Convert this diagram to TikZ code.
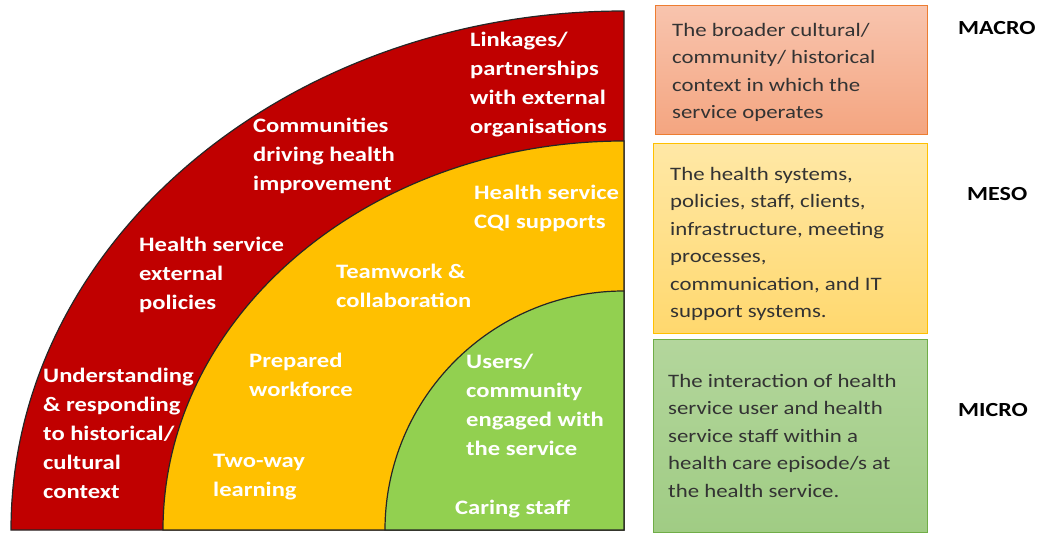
\documentclass[tikz,border=0pt]{standalone}
\usepackage{fontspec}
\setmainfont{Carlito}[FakeStretch=1.2]
\definecolor{macrored}{HTML}{C00000}
\definecolor{mesoyellow}{HTML}{FFC000}
\definecolor{microgreen}{HTML}{92D050}
\definecolor{macrotop}{HTML}{F8C4AE}
\definecolor{macrobot}{HTML}{F4A580}
\definecolor{mesotop}{HTML}{FFE8A6}
\definecolor{mesobot}{HTML}{FFD86E}
\definecolor{microtop}{HTML}{B3D69C}
\definecolor{microbot}{HTML}{A0CC84}
\tikzset{
  sector/.style={draw=black!85, line width=1.2pt},
  ringtext/.style={white, font=\bfseries\fontsize{20.5}{29}\selectfont, align=left, anchor=north west, inner sep=0pt},
  levelbox/.style={line width=1.2pt, anchor=north west, inner sep=0pt},
  boxtext/.style={black!80, font=\fontsize{19}{27.5}\selectfont, align=left, anchor=north west, inner sep=0pt},
  levellabel/.style={font=\bfseries\fontsize{20}{24}\selectfont, anchor=west, inner sep=0pt}
}
\begin{document}
\begin{tikzpicture}[x=1pt,y=-1pt]
\useasboundingbox (0,0) rectangle (1040,534);
\coordinate (o) at (624,530);
\filldraw[sector, fill=macrored] (o) -- ++(-613,0) arc[start angle=180, end angle=270, x radius=613, y radius=519] -- cycle;
\filldraw[sector, fill=mesoyellow] (o) -- ++(-461,0) arc[start angle=180, end angle=270, x radius=461, y radius=389] -- cycle;
\filldraw[sector, fill=microgreen] (o) -- ++(-239,0) arc[start angle=180, end angle=270, x radius=239, y radius=239] -- cycle;
\node[ringtext] (linkages) at (470,32) {Linkages/\\partnerships\\with external\\organisations};
\node[ringtext] (communities) at (253,118) {Communities\\driving health\\improvement};
\node[ringtext] (policies) at (139,237) {Health service\\external\\policies};
\node[ringtext] (understanding) at (43,368) {Understanding\\\& responding\\to historical/\\cultural\\context};
\node[ringtext] (cqi) at (474,185) {Health service\\CQI supports};
\node[ringtext] (teamwork) at (336,264) {Teamwork \&\\collaboration};
\node[ringtext] (workforce) at (249,353) {Prepared\\workforce};
\node[ringtext] (twoway) at (213,454) {Two-way\\learning};
\node[ringtext] (users) at (466,354) {Users/\\community\\engaged with\\the service};
\node[ringtext] (caring) at (455,500) {Caring staff};
\node[levelbox, draw={rgb,255:red,237;green,125;blue,49}, top color=macrotop, bottom color=macrobot, minimum width=272pt, minimum height=129pt] (macrobox) at (655,5) {};
\node[levelbox, draw=mesoyellow, top color=mesotop, bottom color=mesobot, minimum width=274pt, minimum height=190pt] (mesobox) at (653,143) {};
\node[levelbox, draw={rgb,255:red,112;green,173;blue,71}, top color=microtop, bottom color=microbot, minimum width=274pt, minimum height=193pt] (microbox) at (653,339) {};
\node[boxtext] (macrotext) at (672,23) {The broader cultural/\\community/ historical\\context in which the\\service operates};
\node[boxtext] (mesotext) at (670,167) {The health systems,\\policies, staff, clients,\\infrastructure, meeting\\processes,\\communication, and IT\\support systems.};
\node[boxtext] (microtext) at (668,374) {The interaction of health\\service user and health\\service staff within a\\health care episode/s at\\the health service.};
\node[levellabel] (macro) at (958,28) {MACRO};
\node[levellabel] (meso) at (967,194) {MESO};
\node[levellabel] (micro) at (958,410) {MICRO};
\end{tikzpicture}
\end{document}
